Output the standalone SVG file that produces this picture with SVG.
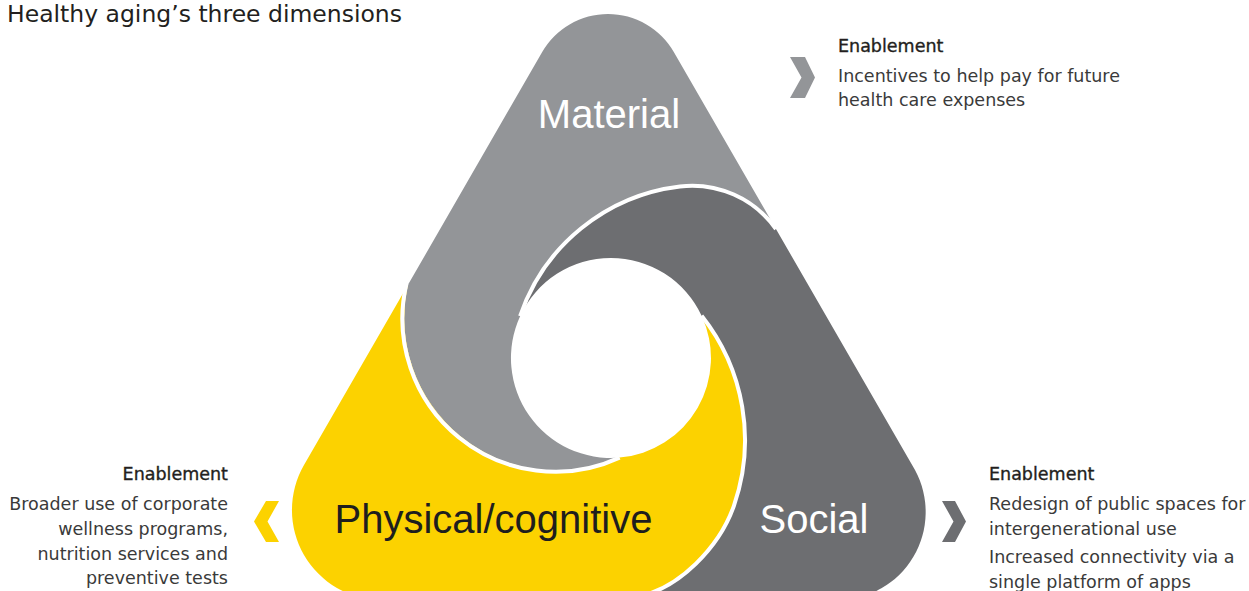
<svg xmlns="http://www.w3.org/2000/svg" width="1249" height="591" viewBox="0 0 1249 591">
  <style>
    .mat{fill:#939598}
    .soc{fill:#6d6e71}
    .phy{fill:#fcd200}
    .div{fill:none;stroke:#ffffff;stroke-width:4}
    .lbl{font-family:"Liberation Sans",Arial,sans-serif;font-size:40px}
    .title{font-family:"DejaVu Sans","Liberation Sans",sans-serif;font-size:23.5px;fill:#231f20}
    .head{font-family:"DejaVu Sans","Liberation Sans",sans-serif;font-size:17.5px;fill:#231f20;stroke:#231f20;stroke-width:0.35}
    .body{font-family:"DejaVu Sans","Liberation Sans",sans-serif;font-size:17.5px;fill:#3a3a3a}
  </style>
  <rect width="1249" height="591" fill="#ffffff"/>
  <text class="title" x="7" y="22">Healthy aging’s three dimensions</text>

  <g id="node-material">
    <path class="mat" d="M619.6 457.6 A153 153 0 0 1 407.7 285.3 L542.2 52 A76 76 0 0 1 673.8 52 L774.8 227 A103 103 0 0 0 680 186.4 A193 193 0 0 0 520.1 316.2 A100 100 0 0 0 619.6 457.6 Z"/>
    <text class="lbl" x="609" y="128" text-anchor="middle" fill="#ffffff">Material</text>
    <text class="head" x="838" y="52">Enablement</text>
    <text class="body" x="838" y="81.5">Incentives to help pay for future</text>
    <text class="body" x="838" y="106">health care expenses</text>
  </g>

  <g id="node-social">
    <path class="soc" d="M520.1 316.2 A193 193 0 0 1 680 186.4 A103 103 0 0 1 774.8 227 L915 470 A88 88 0 0 1 838 600 L630 600 L630 598 C680 592 720.7 543.6 733.9 505.8 A200 200 0 0 0 701.6 315.7 A100 100 0 0 0 520.1 316.2 Z"/>
    <text class="lbl" x="814" y="533" text-anchor="middle" fill="#ffffff">Social</text>
    <text class="head" x="989" y="480">Enablement</text>
    <text class="body" x="989" y="509.5">Redesign of public spaces for</text>
    <text class="body" x="989" y="534.5">intergenerational use</text>
    <text class="body" x="989" y="563">Increased connectivity via a</text>
    <text class="body" x="989" y="588">single platform of apps</text>
  </g>

  <g id="node-physical">
    <path class="phy" d="M701.6 315.7 A200 200 0 0 1 733.9 505.8 C720.7 543.6 680 592 630 598 L630 600 L381.9 600 A90 90 0 0 1 304 465 L407.7 285.3 A153 153 0 0 0 619.6 457.6 A100 100 0 0 0 701.6 315.7 Z"/>
    <text class="lbl" x="493.5" y="533" text-anchor="middle" fill="#1e1e1e">Physical/cognitive</text>
    <text class="head" x="228" y="480" text-anchor="end">Enablement</text>
    <text class="body" x="228" y="509.5" text-anchor="end">Broader use of corporate</text>
    <text class="body" x="228" y="534.5" text-anchor="end">wellness programs,</text>
    <text class="body" x="228" y="559.5" text-anchor="end">nutrition services and</text>
    <text class="body" x="228" y="584" text-anchor="end">preventive tests</text>
  </g>

  <g id="dividers">
    <path class="div" d="M520.1 316.2 A193 193 0 0 1 680 186.4 A103 103 0 0 1 776 229"/>
    <path class="div" d="M619.6 457.6 A153 153 0 0 1 406.5 283.5"/>
    <path class="div" d="M701.6 315.7 A200 200 0 0 1 733.9 505.8 C720.7 543.6 680 592 630 598"/>
  </g>

  <g id="connectors">
    <polygon class="mat" points="790,57 805,57 815,77.5 805,98 790,98 801.5,77.5"/>
    <polygon class="soc" points="942,501 955,501 966,521.5 955,542 942,542 953.5,521.5"/>
    <polygon class="phy" points="279,501 266,501 254,521.5 266,542 279,542 267.5,521.5"/>
  </g>
</svg>
